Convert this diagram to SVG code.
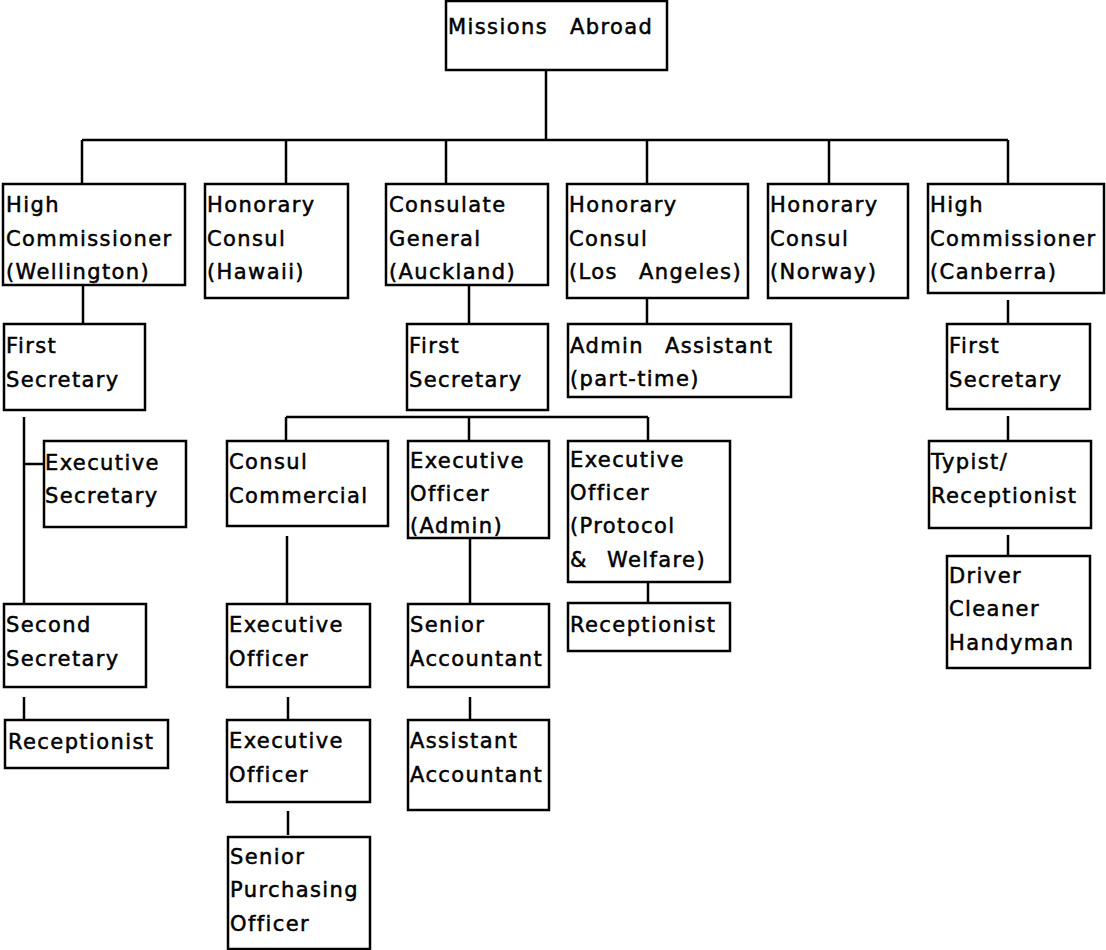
<svg xmlns="http://www.w3.org/2000/svg" width="1106" height="950" viewBox="0 0 1106 950">
<style>
.b{fill:#fff;stroke:#000;stroke-width:2.5}
.t{font-family:"DejaVu Sans",sans-serif;font-size:21px;letter-spacing:1.4px;fill:#000;stroke:#000;stroke-width:0.5px}
.c{stroke:#000;stroke-width:2.5;fill:none}
</style>
<rect x="0" y="0" width="1106" height="950" fill="#fff"/>
<g id="connectors" class="c">
<path d="M546,70V140M82,140H1008M82,140V184M286,140V184M446,140V184M647,140V184M829,140V184M1008,140V184"/>
<path d="M83,285V324M24,417V604M24,464H44"/>
<path d="M469,285V324M286,417H648M286,417V441M469,417V441M648,417V441"/>
<path d="M647,298V324M1008,300V324M1008,416V441M1008,535V556"/>
<path d="M287,536V604M470,538V604M648,582V603"/>
<path d="M24,697V720M288,697V720M288,811V835M470,697V720"/>
</g>
<g id="missions"><rect class="b" x="446" y="1" width="221" height="69"/><text class="t" y="34"><tspan x="448">Missions</tspan><tspan x="570">Abroad</tspan></text></g>
<g id="hc_wellington"><rect class="b" x="3" y="184" width="182" height="101"/><text class="t"><tspan x="6" y="212">High</tspan><tspan x="6" y="246">Commissioner</tspan><tspan x="6" y="279">(Wellington)</tspan></text></g>
<g id="hon_hawaii"><rect class="b" x="205" y="184" width="143" height="114"/><text class="t"><tspan x="207" y="212">Honorary</tspan><tspan x="207" y="246">Consul</tspan><tspan x="207" y="279">(Hawaii)</tspan></text></g>
<g id="consulate"><rect class="b" x="386" y="184" width="162" height="101"/><text class="t"><tspan x="389" y="212">Consulate</tspan><tspan x="389" y="246">General</tspan><tspan x="389" y="279">(Auckland)</tspan></text></g>
<g id="hon_la"><rect class="b" x="567" y="184" width="181" height="114"/><text class="t"><tspan x="569" y="212">Honorary</tspan><tspan x="569" y="246">Consul</tspan><tspan x="569" y="279">(Los</tspan><tspan x="639" y="279">Angeles)</tspan></text></g>
<g id="hon_norway"><rect class="b" x="768" y="184" width="140" height="114"/><text class="t"><tspan x="770" y="212">Honorary</tspan><tspan x="770" y="246">Consul</tspan><tspan x="770" y="279">(Norway)</tspan></text></g>
<g id="hc_canberra"><rect class="b" x="928" y="184" width="176" height="109"/><text class="t"><tspan x="930" y="212">High</tspan><tspan x="930" y="246">Commissioner</tspan><tspan x="930" y="279">(Canberra)</tspan></text></g>
<g id="fs_wellington"><rect class="b" x="4" y="324" width="141" height="86"/><text class="t"><tspan x="6" y="353">First</tspan><tspan x="6" y="387">Secretary</tspan></text></g>
<g id="exec_secretary"><rect class="b" x="44" y="441" width="142" height="86"/><text class="t"><tspan x="45" y="470">Executive</tspan><tspan x="45" y="503">Secretary</tspan></text></g>
<g id="second_secretary"><rect class="b" x="4" y="604" width="142" height="83"/><text class="t"><tspan x="6" y="632">Second</tspan><tspan x="6" y="666">Secretary</tspan></text></g>
<g id="receptionist_wellington"><rect class="b" x="5" y="720" width="163" height="48"/><text class="t" x="8" y="749">Receptionist</text></g>
<g id="fs_auckland"><rect class="b" x="407" y="324" width="141" height="86"/><text class="t"><tspan x="409" y="353">First</tspan><tspan x="409" y="387">Secretary</tspan></text></g>
<g id="consul_commercial"><rect class="b" x="227" y="441" width="161" height="85"/><text class="t"><tspan x="229" y="469">Consul</tspan><tspan x="229" y="503">Commercial</tspan></text></g>
<g id="eo_admin"><rect class="b" x="408" y="441" width="141" height="97"/><text class="t"><tspan x="410" y="468">Executive</tspan><tspan x="410" y="501">Officer</tspan><tspan x="410" y="533">(Admin)</tspan></text></g>
<g id="eo_protocol"><rect class="b" x="568" y="441" width="162" height="141"/><text class="t"><tspan x="570" y="467">Executive</tspan><tspan x="570" y="500">Officer</tspan><tspan x="570" y="533">(Protocol</tspan><tspan x="570" y="567">&amp;</tspan><tspan x="607" y="567">Welfare)</tspan></text></g>
<g id="receptionist_auckland"><rect class="b" x="568" y="603" width="162" height="48"/><text class="t" x="570" y="632">Receptionist</text></g>
<g id="admin_assistant"><rect class="b" x="568" y="324" width="223" height="73"/><text class="t"><tspan x="570" y="353">Admin</tspan><tspan x="665" y="353">Assistant</tspan><tspan x="570" y="386">(part-time)</tspan></text></g>
<g id="eo1"><rect class="b" x="227" y="604" width="143" height="83"/><text class="t"><tspan x="229" y="632">Executive</tspan><tspan x="229" y="666">Officer</tspan></text></g>
<g id="eo2"><rect class="b" x="227" y="720" width="143" height="82"/><text class="t"><tspan x="229" y="748">Executive</tspan><tspan x="229" y="782">Officer</tspan></text></g>
<g id="senior_purchasing"><rect class="b" x="228" y="837" width="142" height="112"/><text class="t"><tspan x="230" y="864">Senior</tspan><tspan x="230" y="897">Purchasing</tspan><tspan x="230" y="931">Officer</tspan></text></g>
<g id="senior_accountant"><rect class="b" x="408" y="604" width="141" height="83"/><text class="t"><tspan x="410" y="632">Senior</tspan><tspan x="410" y="666">Accountant</tspan></text></g>
<g id="assistant_accountant"><rect class="b" x="408" y="720" width="141" height="90"/><text class="t"><tspan x="410" y="748">Assistant</tspan><tspan x="410" y="782">Accountant</tspan></text></g>
<g id="fs_canberra"><rect class="b" x="947" y="324" width="143" height="85"/><text class="t"><tspan x="949" y="353">First</tspan><tspan x="949" y="387">Secretary</tspan></text></g>
<g id="typist"><rect class="b" x="929" y="441" width="162" height="87"/><text class="t"><tspan x="931" y="469">Typist/</tspan><tspan x="931" y="503">Receptionist</tspan></text></g>
<g id="driver"><rect class="b" x="947" y="556" width="143" height="112"/><text class="t"><tspan x="949" y="583">Driver</tspan><tspan x="949" y="616">Cleaner</tspan><tspan x="949" y="650">Handyman</tspan></text></g>
</svg>
